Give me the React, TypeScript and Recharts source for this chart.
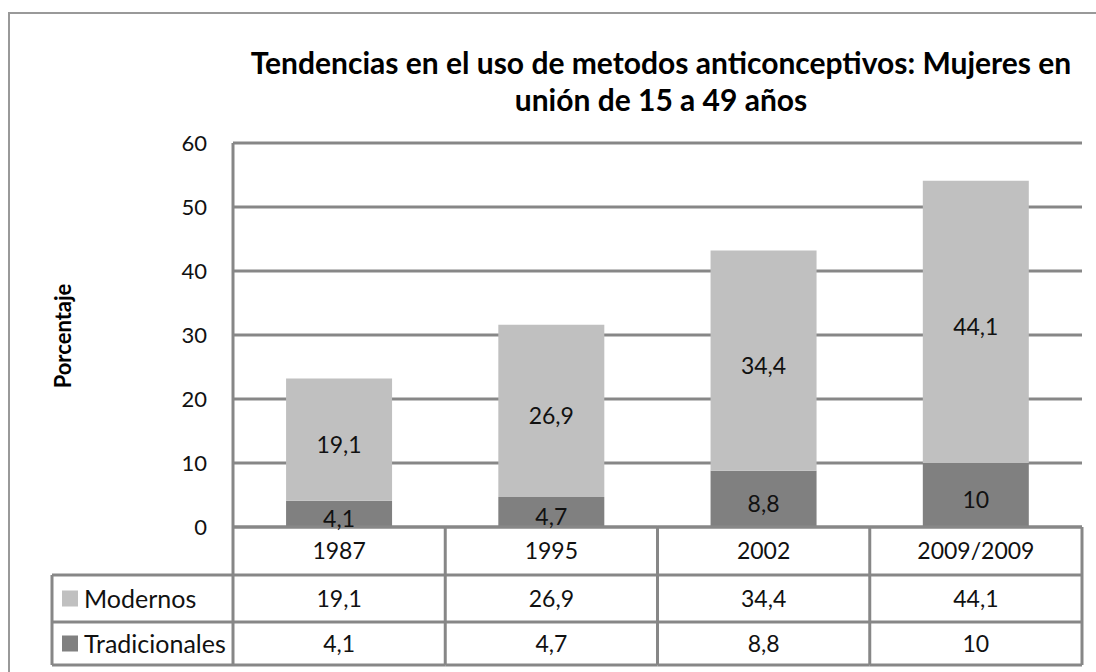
import { BarChart, Bar, XAxis, YAxis, CartesianGrid, LabelList } from "recharts";

const YEARS = ["1987", "1995", "2002", "2009/2009"];
const MODERNOS = [19.1, 26.9, 34.4, 44.1];
const TRADICIONALES = [4.1, 4.7, 8.8, 10];
const Y_TICKS = [0, 10, 20, 30, 40, 50, 60];

const LIGHT = "#c0c0c0";
const DARK = "#808080";
const LINE = "#878787";
const FONT = "Lato, 'Open Sans', sans-serif";

// layout
const W = 1096;
const H = 672;
const PLOT_LEFT = 233;
const PLOT_RIGHT = 1082;
const PLOT_TOP = 143;
const PLOT_BOTTOM = 527;
const ROWS = [527, 575, 622, 665];
const LEGEND_LEFT = 52;

const data = YEARS.map((year, i) => ({ year, modernos: MODERNOS[i], tradicionales: TRADICIONALES[i] }));
const fmt = (v: number) => String(v).replace(".", ",");
const numStyle = { fontFamily: FONT, fontSize: 23, fill: "#111" };

function TableTick({ x, payload }: any) {
  const i = payload.index;
  const colW = (PLOT_RIGHT - PLOT_LEFT) / YEARS.length;
  const left = x - colW / 2;
  const right = x + colW / 2;
  const mid = (a: number, b: number) => (a + b) / 2 + 8;
  const legendTxt = { fontFamily: FONT, fontSize: 25, fill: "#111" };
  return (
    <g>
      {ROWS.map((ry) => (
        <line key={ry} x1={left} x2={right} y1={ry} y2={ry} stroke={LINE} strokeWidth={3} />
      ))}
      <line x1={right} x2={right} y1={ROWS[0]} y2={ROWS[3]} stroke={LINE} strokeWidth={3} />
      <text x={x} y={mid(ROWS[0], ROWS[1])} textAnchor="middle" {...numStyle}>{payload.value}</text>
      <text x={x} y={mid(ROWS[1], ROWS[2])} textAnchor="middle" {...numStyle}>{fmt(MODERNOS[i])}</text>
      <text x={x} y={mid(ROWS[2], ROWS[3])} textAnchor="middle" {...numStyle}>{fmt(TRADICIONALES[i])}</text>
      {i === 0 && (
        <g>
          <line x1={left} x2={left} y1={PLOT_TOP} y2={ROWS[3]} stroke={LINE} strokeWidth={3} />
          {ROWS.slice(1).map((ry) => (
            <line key={ry} x1={LEGEND_LEFT} x2={left} y1={ry} y2={ry} stroke={LINE} strokeWidth={3} />
          ))}
          <line x1={LEGEND_LEFT} x2={LEGEND_LEFT} y1={ROWS[1]} y2={ROWS[3]} stroke={LINE} strokeWidth={3} />
          <rect x={LEGEND_LEFT + 10} y={(ROWS[1] + ROWS[2]) / 2 - 8} width={16} height={16} fill={LIGHT} />
          <text x={LEGEND_LEFT + 32} y={mid(ROWS[1], ROWS[2]) + 1} {...legendTxt}>Modernos</text>
          <rect x={LEGEND_LEFT + 10} y={(ROWS[2] + ROWS[3]) / 2 - 8} width={16} height={16} fill={DARK} />
          <text x={LEGEND_LEFT + 32} y={mid(ROWS[2], ROWS[3]) + 1} {...legendTxt}>Tradicionales</text>
        </g>
      )}
    </g>
  );
}

// Excel puts the value label a little below the segment's middle
function BarLabel({ x, y, width, height, value }: any) {
  return (
    <text x={x + width / 2} y={y + height / 2 + 13} textAnchor="middle" {...numStyle}>
      {fmt(value)}
    </text>
  );
}

export default function App() {
  return (
    <div style={{ position: "absolute", left: 0, top: 0, width: W, height: H, overflow: "hidden", background: "#fff", fontFamily: FONT }}>
      <div style={{ position: "absolute", left: 8, top: 12, width: W, height: H, border: "2px solid #999" }} />
      <div
        style={{
          position: "absolute", left: 240, width: 842, top: 44, textAlign: "center",
          fontWeight: 700, fontSize: 30, lineHeight: "37px", color: "#000",
        }}
      >
        Tendencias en el uso de metodos anticonceptivos: Mujeres en<br />unión de 15 a 49 años
      </div>
      <div
        style={{
          position: "absolute", left: 62, top: 336, transform: "translate(-50%, -50%) rotate(-90deg)",
          fontWeight: 700, fontSize: 22, color: "#000", whiteSpace: "nowrap",
        }}
      >
        Porcentaje
      </div>
      <div style={{ position: "absolute", left: 0, top: 0 }}>
        <BarChart
          width={W}
          height={H}
          data={data}
          barCategoryGap="25%"
          margin={{ top: PLOT_TOP, right: W - PLOT_RIGHT, left: PLOT_LEFT - 60, bottom: H - ROWS[3] }}
        >
          <CartesianGrid vertical={false} stroke={LINE} strokeWidth={3} />
          <YAxis
            width={60}
            domain={[0, 60]}
            ticks={Y_TICKS}
            axisLine={false}
            tickLine={false}
            tickSize={0}
            tickMargin={26}
            tick={{ fontFamily: FONT, fontSize: 22, fill: "#111" }}
          />
          <XAxis
            dataKey="year"
            height={ROWS[3] - PLOT_BOTTOM}
            axisLine={false}
            tickLine={false}
            tickSize={0}
            interval={0}
            tick={<TableTick />}
          />
          <Bar dataKey="tradicionales" stackId="a" fill={DARK} isAnimationActive={false}>
            <LabelList dataKey="tradicionales" content={<BarLabel />} />
          </Bar>
          <Bar dataKey="modernos" stackId="a" fill={LIGHT} isAnimationActive={false}>
            <LabelList dataKey="modernos" content={<BarLabel />} />
          </Bar>
        </BarChart>
      </div>
    </div>
  );
}
